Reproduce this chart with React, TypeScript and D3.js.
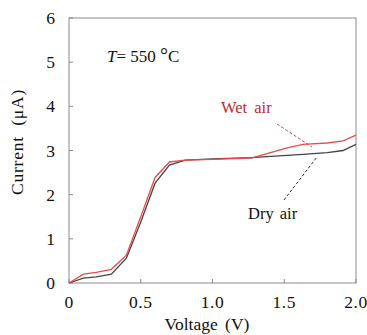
import React from "react";
import * as d3 from "d3";

const voltage = [0, 0.1, 0.19, 0.295, 0.4, 0.5, 0.6, 0.7, 0.81, 1.0, 1.27, 1.38, 1.52, 1.63, 1.8, 1.91, 2.0];
const dryAir = [0, 0.11, 0.14, 0.2, 0.56, 1.38, 2.26, 2.67, 2.78, 2.81, 2.84, 2.86, 2.89, 2.91, 2.95, 3.0, 3.14];
const wetAir = [0, 0.2, 0.24, 0.31, 0.63, 1.5, 2.39, 2.74, 2.78, 2.8, 2.83, 2.93, 3.06, 3.14, 3.17, 3.22, 3.35];
const xTicks = [0, 0.5, 1.0, 1.5, 2.0];
const xTickLabels = ["0", "0.5", "1.0", "1.5", "2.0"];
const yTicks = [0, 1, 2, 3, 4, 5, 6];

export default function App() {
  const W = 367, H = 335;
  const x = d3.scaleLinear().domain([0, 2]).range([69, 356]);
  const y = d3.scaleLinear().domain([0, 6]).range([283, 18]);
  const line = d3.line<number>().x((_, i) => x(voltage[i])).y((d) => y(d));
  const font = "'Liberation Serif', 'Times New Roman', serif";
  return (
    <svg width={W} height={H} style={{ position: "absolute", left: 0, top: 0, background: "#fff" }}>
      <rect x={x(0)} y={y(6)} width={x(2) - x(0)} height={y(0) - y(6)} fill="none" stroke="#8a8a8a" strokeWidth={1} />
      {xTicks.map((t, i) => (
        <g key={"x" + i}>
          <line x1={x(t)} x2={x(t)} y1={y(0)} y2={y(0) - 4} stroke="#8a8a8a" />
          <text x={x(t)} y={308} textAnchor="middle" fontFamily={font} fontSize={17.5} letterSpacing={0.5} fill="#111">{xTickLabels[i]}</text>
        </g>
      ))}
      {yTicks.map((t, i) => (
        <g key={"y" + i}>
          <line x1={x(0)} x2={x(0) + 4} y1={y(t)} y2={y(t)} stroke="#8a8a8a" />
          <text x={55} y={y(t) + 6} textAnchor="end" fontFamily={font} fontSize={17.5} fill="#111">{t}</text>
        </g>
      ))}
      <path d={line(dryAir) || ""} fill="none" stroke="#444" strokeWidth={1.3} />
      <path d={line(wetAir) || ""} fill="none" stroke="#ee4a4a" strokeWidth={1.3} />
      <text x={107} y={62} fontFamily={font} fontSize={17} fill="#111">
        <tspan fontStyle="italic">T</tspan>= 550 <tspan fontSize={20}>°</tspan>C
      </text>
      <text x={221} y={113} fontFamily={font} fontSize={16.5} wordSpacing={3} fill="#c0282d">Wet air</text>
      <line x1={277} y1={124} x2={312} y2={147} stroke="#d04848" strokeWidth={1} strokeDasharray="3,2" />
      <text x={248} y={219} fontFamily={font} fontSize={16.5} wordSpacing={2} fill="#111">Dry air</text>
      <line x1={284} y1={200} x2={317} y2={157} stroke="#333" strokeWidth={1} strokeDasharray="3,2" />
      <text x={207} y={330} textAnchor="middle" fontFamily={font} fontSize={17.5} wordSpacing={3} fill="#111">Voltage (V)</text>
      <text transform={`translate(23,142) rotate(-90)`} textAnchor="middle" fontFamily={font} fontSize={17.5} wordSpacing={5} letterSpacing={0.8} fill="#111">Current (μA)</text>
    </svg>
  );
}
